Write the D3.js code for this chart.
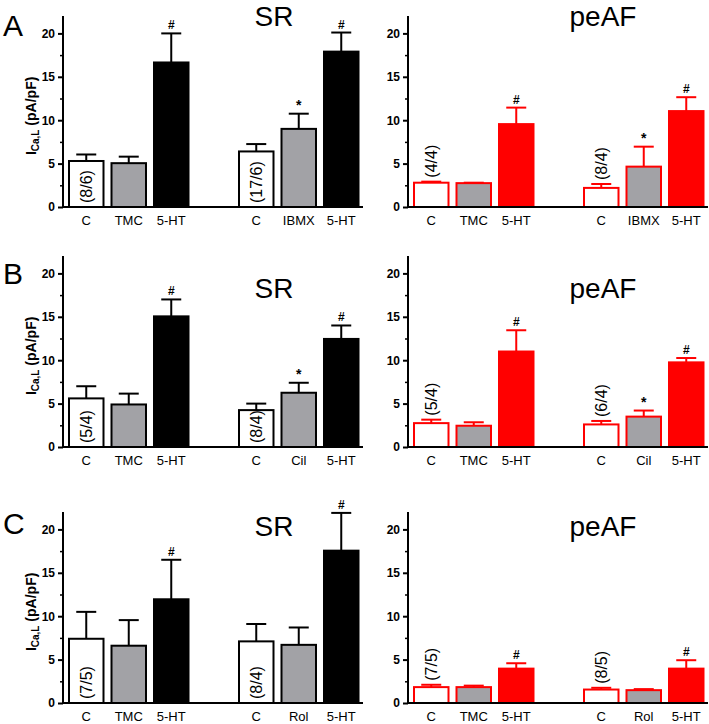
<!DOCTYPE html>
<html><head><meta charset="utf-8">
<script src="https://cdn.jsdelivr.net/npm/d3@7"></script>
<style>body{margin:0;background:#fff}svg{display:block;font-family:Arial,"Liberation Sans",sans-serif}</style>
</head><body><div id="chart"></div>
<script>
// ---------- DATA ----------
const catsA = ["C","TMC","5-HT","C","IBMX","5-HT"];
const catsB = ["C","TMC","5-HT","C","Cil","5-HT"];
const catsC = ["C","TMC","5-HT","C","Rol","5-HT"];

const srA_mean = [5.3, 5.05, 16.65, 6.4, 9.0, 17.9];
const srA_sem  = [0.75, 0.75, 3.35, 0.85, 1.75, 2.2];
const peA_mean = [2.8, 2.75, 9.55, 2.2, 4.65, 11.05];
const peA_sem  = [0.12, 0.05, 1.9, 0.45, 2.3, 1.6];

const srB_mean = [5.6, 4.9, 15.05, 4.25, 6.25, 12.45];
const srB_sem  = [1.4, 1.25, 1.95, 0.75, 1.15, 1.55];
const peB_mean = [2.75, 2.45, 11.0, 2.6, 3.5, 9.75];
const peB_sem  = [0.4, 0.4, 2.45, 0.4, 0.7, 0.5];

const srC_mean = [7.4, 6.6, 11.95, 7.1, 6.7, 17.55];
const srC_sem  = [3.1, 2.95, 4.55, 2.0, 2.0, 4.35];
const peC_mean = [1.83, 1.83, 3.96, 1.55, 1.48, 3.96];
const peC_sem  = [0.27, 0.17, 0.62, 0.2, 0.12, 0.97];

const sigA = ["","","#","","*","#"];
const sigB = ["","","#","","*","#"];
const sigC = ["","","#","","","#"];

const srA_n = ["(8/6)","(17/6)"], peA_n = ["(4/4)","(8/4)"];
const srB_n = ["(5/4)","(8/4)"], peB_n = ["(5/4)","(6/4)"];
const srC_n = ["(7/5)","(8/4)"], peC_n = ["(7/5)","(8/5)"];

const yTicks = [0,5,10,15,20];
const yMinor = [2.5,7.5,12.5,17.5];
const yLabel = "I";
const ySub = "Ca,L";
const yUnit = " (pA/pF)";
const rowLetters = ["A","B","C"];
const panelTitles = ["SR","peAF"];

// ---------- LAYOUT ----------
const W = 709, H = 724;
const svg = d3.select("#chart").append("svg").attr("width", W).attr("height", H);
const colX0 = [63, 408];
const rowY0 = [207, 447, 703];
const titleY = [26, 298, 536];
const letterY = [36, 284, 534];
const pxPerUnit = 8.68;
const grey = "#a2a2a6";
const red = "#ff0000";

const rows = [
  {cats: catsA, sig: sigA, panels: [{m: srA_mean, s: srA_sem, n: srA_n}, {m: peA_mean, s: peA_sem, n: peA_n}]},
  {cats: catsB, sig: sigB, panels: [{m: srB_mean, s: srB_sem, n: srB_n}, {m: peB_mean, s: peB_sem, n: peB_n}]},
  {cats: catsC, sig: sigC, panels: [{m: srC_mean, s: srC_sem, n: srC_n}, {m: peC_mean, s: peC_sem, n: peC_n}]}
];

rows.forEach((row, ri) => {
  const y0 = rowY0[ri];
  svg.append("text").attr("x", 3).attr("y", letterY[ri]).attr("font-size", 30).text(rowLetters[ri]);

  row.panels.forEach((p, ci) => {
    const x0 = colX0[ci];
    const isPe = ci === 1;
    const edge = isPe ? red : "#000";
    const fills = isPe ? ["#fff", grey, red] : ["#fff", grey, "#000"];
    const g = svg.append("g");

    const y = d3.scaleLinear().domain([0, 22]).range([y0, y0 - 22 * pxPerUnit]);
    const slots = [0,1,2,3,4,5,6];
    const x = d3.scaleBand().domain(slots).range([x0 + 5, x0 + 5 + 7 * 42.5 - 6]).paddingInner(6 / 42.5).paddingOuter(0);
    const slotOf = i => i < 3 ? i : i + 1;

    p.m.forEach((v, i) => {
      const bx = x(slotOf(i)), bw = x.bandwidth();
      const cx = bx + bw / 2;
      const top = y(v), errTop = y(v + p.s[i]);
      g.append("line").attr("x1", cx).attr("x2", cx).attr("y1", top).attr("y2", errTop)
        .attr("stroke", edge).attr("stroke-width", 2);
      g.append("line").attr("x1", cx - 10).attr("x2", cx + 10).attr("y1", errTop).attr("y2", errTop)
        .attr("stroke", edge).attr("stroke-width", 2);
      g.append("rect").attr("x", bx + 1).attr("y", top).attr("width", bw - 2).attr("height", y0 - top)
        .attr("fill", fills[i % 3]).attr("stroke", edge).attr("stroke-width", 2);
      if (row.sig[i]) {
        g.append("text").attr("x", cx).attr("y", errTop - 4).attr("text-anchor", "middle")
          .attr("font-size", row.sig[i] === "*" ? 14 : 12).attr("font-weight", "bold").text(row.sig[i]);
      }
      if (i % 3 === 0) {
        const lbl = p.n[i / 3];
        const by = isPe ? errTop - 4 : y0 - 4;
        g.append("text").attr("transform", `translate(${cx},${by}) rotate(-90)`)
          .attr("dy", "0.36em").attr("font-size", 16).text(lbl);
      }
      g.append("text").attr("x", cx).attr("y", y0 + 18).attr("text-anchor", "middle")
        .attr("font-size", 13).text(row.cats[i]);
    });

    const axis = d3.axisLeft(y).tickValues(yTicks).tickSize(5).tickPadding(3);
    const ag = g.append("g").attr("transform", `translate(${x0},0)`).call(axis);
    ag.select(".domain").remove();
    ag.selectAll(".tick line").attr("stroke-width", 2);
    ag.selectAll(".tick text").attr("font-size", 12).attr("font-weight", "bold").attr("font-family", "Arial, 'Liberation Sans', sans-serif");
    const mg = g.append("g").attr("transform", `translate(${x0},0)`).call(d3.axisLeft(y).tickValues(yMinor).tickSize(3).tickFormat(""));
    mg.select(".domain").remove();
    mg.selectAll(".tick line").attr("stroke-width", 1.5);
    g.append("line").attr("x1", x0).attr("x2", x0).attr("y1", y0 + 1).attr("y2", y(22)).attr("stroke", "#000").attr("stroke-width", 2);
    g.append("line").attr("x1", x0 - 1).attr("x2", x0 + 300).attr("y1", y0).attr("y2", y0).attr("stroke", "#000").attr("stroke-width", 2);

    if (!isPe) {
      const t = g.append("text").attr("transform", `translate(36,${y(10.5)}) rotate(-90)`)
        .attr("text-anchor", "middle").attr("font-size", 14).attr("font-weight", "bold");
      t.append("tspan").text(yLabel);
      t.append("tspan").attr("font-size", 10).attr("dy", 3).text(ySub);
      t.append("tspan").attr("dy", -3).text(yUnit);
    }

    g.append("text").attr("x", isPe ? x0 + 195 : x0 + 211).attr("y", titleY[ri]).attr("text-anchor", "middle")
      .attr("font-size", 28).text(panelTitles[ci]);
  });
});
</script></body></html>
